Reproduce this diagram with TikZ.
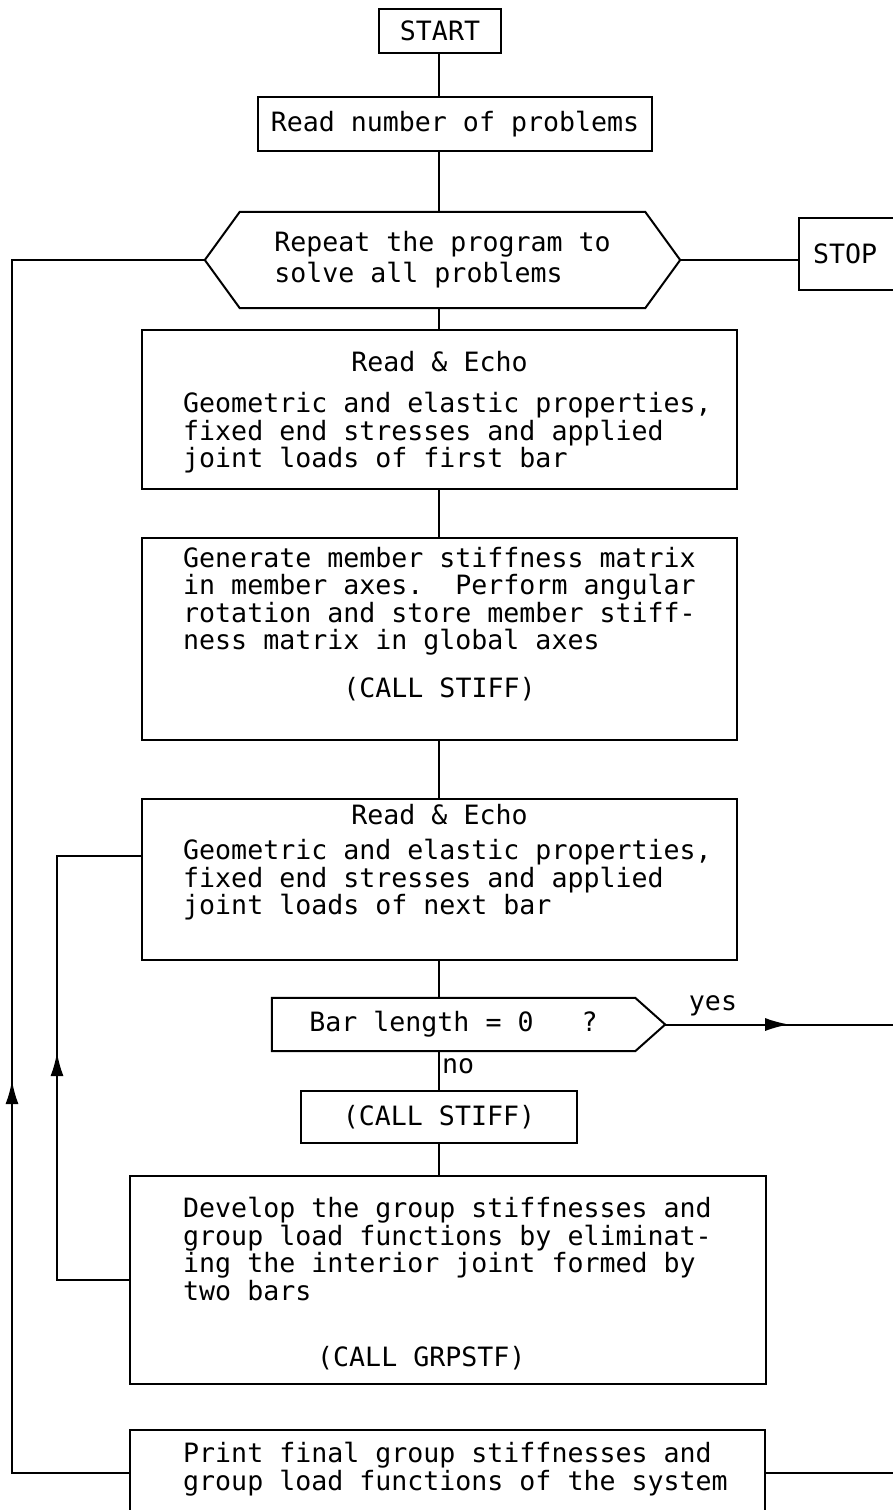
\documentclass[tikz,border=0pt]{standalone}
\usepackage{fontspec}
\setmonofont{DejaVu Sans Mono}
\usetikzlibrary{arrows.meta,calc,decorations.markings}

\begin{document}
\begin{tikzpicture}[
  x=1pt,y=-1pt,
  every node/.style={font=\ttfamily\fontsize{26.6}{27.5}\selectfont},
  box/.style={draw,line width=2pt,inner sep=0pt},
  shell/.style={inner sep=0pt,align=left},
  para/.style={anchor=north west,inner sep=0pt,align=left,
    execute at begin node={\rule{0pt}{21pt}}},
  link/.style={line width=2pt},
  loopline/.style={line width=2.6pt},
  midarrow/.style={postaction={decorate},
    decoration={markings,mark=at position #1 with {\arrow{Latex[length=24pt,width=13pt]}}}}
]
  \fill[white] (0,0) rectangle (892,1510);
  \useasboundingbox (0,0) rectangle (892,1510);
  \coordinate (spine) at (439,0);

  % main column
  \node[box,minimum width=122pt,minimum height=44pt] (start) at (440,31) {START};
  \node[box,minimum width=394pt,minimum height=54pt] (rnum) at (455,124) {Read number of problems};

  \node[shell,minimum width=405pt,minimum height=96pt,font=\ttfamily\fontsize{26.6}{31}\selectfont]
    (hex) at (442.5,260) {Repeat the program to\\solve all problems};
  \coordinate (hexL) at ([xshift=-35pt]hex.west);
  \coordinate (hexR) at ([xshift=35pt]hex.east);
  \draw[box] (hex.north west) -- (hex.north east) -- (hexR) -- (hex.south east)
    -- (hex.south west) -- (hexL) -- cycle;

  \node[box,anchor=west,text width=150pt,inner xsep=14pt,minimum height=72pt,align=left]
    (stop) at (798,254) {STOP};

  \node[box,minimum width=595pt,minimum height=159pt] (re1) at (439.5,409.5) {};
  \node[anchor=base,inner sep=0pt] (re1t) at (439.5,371) {Read \& Echo};
  \node[para] (re1b) at (183,392)
    {Geometric and elastic properties,\\fixed end stresses and applied\\joint loads of first bar};

  \node[box,minimum width=595pt,minimum height=202pt] (gen) at (439.5,639) {};
  \node[para] (genb) at (183,547)
    {Generate member stiffness matrix\\in member axes.\ \ Perform angular\\rotation and store member stiff-\\ness matrix in global axes};
  \node[anchor=base,inner sep=0pt] (gent) at (439.5,697) {(CALL STIFF)};

  \node[box,minimum width=595pt,minimum height=161pt] (re2) at (439.5,879.5) {};
  \node[anchor=base,inner sep=0pt] (re2t) at (439.5,824) {Read \& Echo};
  \node[para] (re2b) at (183,839)
    {Geometric and elastic properties,\\fixed end stresses and applied\\joint loads of next bar};

  \node[shell,minimum width=363pt,minimum height=53pt] (bar) at (453.5,1024.5) {Bar length = 0\ \ \ ?};
  \coordinate (barR) at ([xshift=30pt]bar.east);
  \draw[box] (bar.north west) -- (bar.north east) -- (barR) -- (bar.south east)
    -- (bar.south west) -- cycle;
  \node[anchor=base west,inner sep=0pt] (no) at (442,1073) {no};
  \node[anchor=base,inner sep=0pt] (yes) at (713,1010) {yes};

  \node[box,minimum width=276pt,minimum height=52pt] (call) at (439,1117) {(CALL STIFF)};

  \node[box,minimum width=636pt,minimum height=208pt] (dev) at (448,1280) {};
  \node[para] (devb) at (183,1197)
    {Develop the group stiffnesses and\\group load functions by eliminat-\\ing the interior joint formed by\\two bars};
  \node[anchor=base west,inner sep=0pt] (devt) at (317,1366) {(CALL GRPSTF)};

  \node[box,minimum width=635pt,minimum height=86pt] (print) at (447.5,1473) {};
  \node[para] (printb) at (183,1442)
    {Print final group stiffnesses and\\group load functions of the system};

  % spine
  \draw[link] (start.south -| spine) -- (rnum.north -| spine);
  \draw[link] (rnum.south -| spine) -- (hex.north -| spine);
  \draw[link] (hex.south -| spine) -- (re1.north -| spine);
  \draw[link] (re1.south -| spine) -- (gen.north -| spine);
  \draw[link] (gen.south -| spine) -- (re2.north -| spine);
  \draw[link] (re2.south -| spine) -- (bar.north -| spine);
  \draw[link] (bar.south -| spine) -- (call.north -| spine);
  \draw[link] (call.south -| spine) -- (dev.north -| spine);

  % exits
  \draw[link] (hexR) -- (hexR -| stop.west);
  \coordinate (yesend) at (900,1024.5);
  \draw[link,midarrow=124pt] (barR) -- (yesend);
  \coordinate (prend) at (900,1473);
  \draw[link] (print.east) -- (prend);

  % loops
  \coordinate (lb) at (12,1473);
  \coordinate (lt) at (12,260);
  \draw[loopline,midarrow=510pt] (print.west) -- (lb) -- (lt) -- (hexL);
  \coordinate (ib) at (57,1280);
  \coordinate (it) at (57,856);
  \draw[loopline,midarrow=300pt] (dev.west) -- (ib) -- (it) -- (it -| re2.west);
\end{tikzpicture}
\end{document}
